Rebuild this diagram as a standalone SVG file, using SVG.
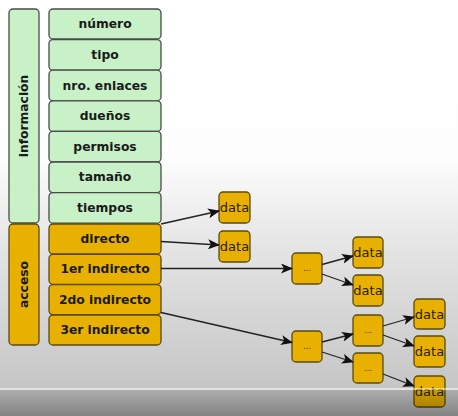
<svg xmlns="http://www.w3.org/2000/svg" width="458" height="416" viewBox="0 0 458 416">
<defs>
<linearGradient id="bg" x1="0" y1="0" x2="0" y2="1">
<stop offset="0" stop-color="#ffffff"/>
<stop offset="0.38" stop-color="#fdfdfd"/>
<stop offset="0.6" stop-color="#e4e4e4"/>
<stop offset="0.93" stop-color="#c6c6c6"/>
<stop offset="1" stop-color="#c0c0c0"/>
</linearGradient>
<linearGradient id="bar" x1="0" y1="0" x2="0" y2="1">
<stop offset="0" stop-color="#000" stop-opacity="0.12"/>
<stop offset="1" stop-color="#000" stop-opacity="0.32"/>
</linearGradient>
<marker id="ah" viewBox="0 0 12 10" refX="11" refY="5" markerWidth="12" markerHeight="10" markerUnits="userSpaceOnUse" orient="auto">
<path d="M0,0 L12,5 L0,10 L3,5 Z" fill="#111"/>
</marker>
<style>
.g rect{fill:#c8f1c8;stroke:#4a4a4a;stroke-width:1.3}
.o rect{fill:#e8b000;stroke:#5a4a10;stroke-width:1.3}
.t{font-family:"DejaVu Sans",sans-serif;font-weight:bold;font-size:12.3px;fill:#1a1a1a;text-anchor:middle;dominant-baseline:central}
.d{font-family:"DejaVu Sans",sans-serif;font-size:13px;fill:#2a2000;text-anchor:middle;dominant-baseline:central}
.e{font-family:"DejaVu Sans",sans-serif;font-size:8px;fill:#3a3000;text-anchor:middle;dominant-baseline:central}
.c line{stroke:#222;stroke-width:1.3;marker-end:url(#ah)}
</style>
</defs>
<rect width="458" height="416" fill="url(#bg)"/>
<g id="informacion" class="g"><rect x="9" y="9" width="30" height="214" rx="4"/><text class="t" transform="translate(24 116) rotate(-90)">información</text></g>
<g id="numero" class="g"><rect x="49" y="9" width="112" height="30" rx="4"/><text class="t" x="105" y="24">número</text></g>
<g id="tipo" class="g"><rect x="49" y="39.6" width="112" height="30.6" rx="4"/><text class="t" x="105" y="55">tipo</text></g>
<g id="enlaces" class="g"><rect x="49" y="70.2" width="112" height="30.6" rx="4"/><text class="t" x="105" y="85.5">nro. enlaces</text></g>
<g id="duenos" class="g"><rect x="49" y="100.8" width="112" height="30.6" rx="4"/><text class="t" x="105" y="116">dueños</text></g>
<g id="permisos" class="g"><rect x="49" y="131.4" width="112" height="30.6" rx="4"/><text class="t" x="105" y="146.7">permisos</text></g>
<g id="tamano" class="g"><rect x="49" y="162" width="112" height="30.6" rx="4"/><text class="t" x="105" y="177.3">tamaño</text></g>
<g id="tiempos" class="g"><rect x="49" y="192.6" width="112" height="30.6" rx="4"/><text class="t" x="105" y="207.9">tiempos</text></g>
<g id="acceso" class="o"><rect x="9" y="224" width="30" height="121" rx="4"/><text class="t" transform="translate(24 284.5) rotate(-90)">acceso</text></g>
<g id="directo" class="o"><rect x="49" y="224" width="112" height="30" rx="4"/><text class="t" x="105" y="239">directo</text></g>
<g id="ind1" class="o"><rect x="49" y="254.3" width="112" height="30" rx="4"/><text class="t" x="105" y="269.3">1er indirecto</text></g>
<g id="ind2" class="o"><rect x="49" y="284.6" width="112" height="30" rx="4"/><text class="t" x="105" y="299.6">2do indirecto</text></g>
<g id="ind3" class="o"><rect x="49" y="315" width="112" height="30" rx="4"/><text class="t" x="105" y="330">3er indirecto</text></g>
<g id="data1" class="o"><rect x="219" y="192" width="31" height="31" rx="4"/><text class="d" x="234.5" y="207.5">data</text></g>
<g id="data2" class="o"><rect x="219" y="231" width="31" height="31" rx="4"/><text class="d" x="234.5" y="246.5">data</text></g>
<g id="p1" class="o"><rect x="292" y="253" width="30" height="31" rx="4"/><text class="e" x="307" y="268.5">...</text></g>
<g id="data3" class="o"><rect x="353" y="237" width="30" height="31" rx="4"/><text class="d" x="368" y="252.5">data</text></g>
<g id="data4" class="o"><rect x="353" y="275" width="30" height="31" rx="4"/><text class="d" x="368" y="290.5">data</text></g>
<g id="p2" class="o"><rect x="292" y="331" width="30" height="31" rx="4"/><text class="e" x="307" y="346.5">...</text></g>
<g id="p3" class="o"><rect x="353" y="315" width="30" height="31" rx="4"/><text class="e" x="368" y="330.5">...</text></g>
<g id="p4" class="o"><rect x="353" y="353" width="30" height="30" rx="4"/><text class="e" x="368" y="368">...</text></g>
<g id="data5" class="o"><rect x="414" y="299" width="31" height="30" rx="4"/><text class="d" x="429.5" y="314">data</text></g>
<g id="data6" class="o"><rect x="414" y="336" width="31" height="31" rx="4"/><text class="d" x="429.5" y="351.5">data</text></g>
<g id="data7" class="o"><rect x="414" y="376" width="31" height="31" rx="4"/><text class="d" x="429.5" y="391.5">data</text></g>
<g id="connectors" class="c">
<line x1="161" y1="224" x2="219" y2="211"/>
<line x1="161" y1="241.5" x2="219" y2="245"/>
<line x1="161" y1="268.5" x2="292" y2="268.5"/>
<line x1="161" y1="312.5" x2="292" y2="342.5"/>
<line x1="322" y1="264.5" x2="353" y2="256"/>
<line x1="322" y1="274" x2="353" y2="285"/>
<line x1="322" y1="342" x2="353" y2="334"/>
<line x1="322" y1="352" x2="353" y2="362"/>
<line x1="383" y1="326" x2="414" y2="317"/>
<line x1="383" y1="335" x2="414" y2="346"/>
<line x1="383" y1="374" x2="414" y2="386"/>
</g>
<rect x="0" y="388" width="458" height="2" fill="#ffffff" opacity="0.5"/>
<rect x="0" y="390" width="458" height="26" fill="url(#bar)"/>
</svg>
